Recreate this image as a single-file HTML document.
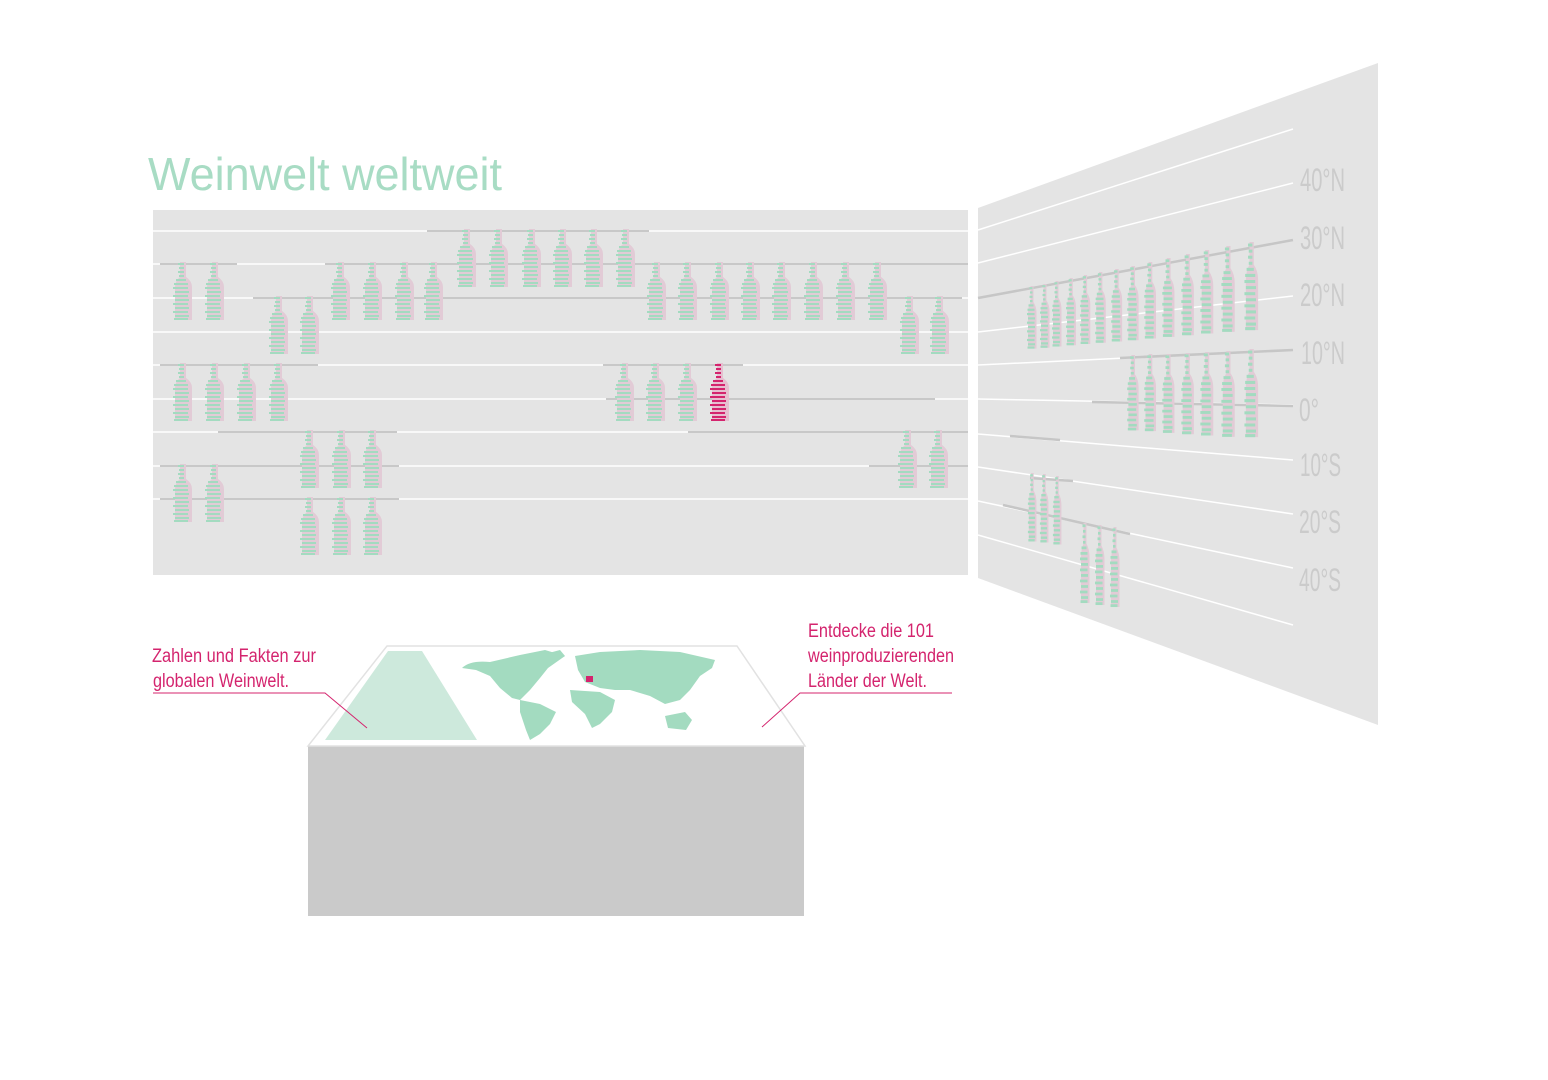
<!DOCTYPE html>
<html><head><meta charset="utf-8"><style>html,body{margin:0;padding:0;background:#fff}svg{display:block}</style></head><body>
<svg width="1548" height="1080" viewBox="0 0 1548 1080" xmlns="http://www.w3.org/2000/svg">
<defs>
<g id="b">
  <path d="M9,0 H15 V15 Q21,19 21,25 V58 H4 V25 Q4,19 9,15 Z" fill="#e2cbd6"/>
  <g fill="#a3dbc0">
    <rect x="7" y="1" width="6" height="2"/><rect x="8" y="5" width="5" height="2"/><rect x="7" y="9" width="6" height="2"/><rect x="8" y="13" width="5" height="2"/>
    <rect x="5" y="17" width="10" height="2"/><rect x="3" y="21" width="14" height="2"/>
    <rect x="2" y="25" width="15" height="2"/><rect x="4" y="29" width="14" height="2"/><rect x="2" y="33" width="15" height="2"/><rect x="4" y="37" width="14" height="2"/><rect x="2" y="41" width="15" height="2"/><rect x="4" y="45" width="14" height="2"/><rect x="2" y="49" width="15" height="2"/><rect x="4" y="53" width="14" height="2"/><rect x="3" y="56" width="14" height="2"/>
  </g>
</g>
<g id="r">
  <path d="M9,0 H15 V15 Q21,19 21,25 V58 H4 V25 Q4,19 9,15 Z" fill="#e6bfd0"/>
  <g fill="#d4246e">
    <rect x="7" y="1" width="6" height="2"/><rect x="8" y="5" width="5" height="2"/><rect x="7" y="9" width="6" height="2"/><rect x="8" y="13" width="5" height="2"/>
    <rect x="5" y="17" width="10" height="2"/><rect x="3" y="21" width="14" height="2"/>
    <rect x="2" y="25" width="15" height="2"/><rect x="4" y="29" width="14" height="2"/><rect x="2" y="33" width="15" height="2"/><rect x="4" y="37" width="14" height="2"/><rect x="2" y="41" width="15" height="2"/><rect x="4" y="45" width="14" height="2"/><rect x="2" y="49" width="15" height="2"/><rect x="4" y="53" width="14" height="2"/><rect x="3" y="56" width="14" height="2"/>
  </g>
</g>
</defs>

<text x="148" y="190" font-family="Liberation Sans, sans-serif" font-size="46" fill="#a8dcc4" textLength="354" lengthAdjust="spacingAndGlyphs">Weinwelt weltweit</text>

<!-- front wall -->
<rect x="153" y="210" width="815" height="365" fill="#e4e4e4"/>
<g stroke="#fff" stroke-width="1.5">
  <line x1="153" y1="231" x2="968" y2="231"/><line x1="153" y1="264" x2="968" y2="264"/><line x1="153" y1="298" x2="968" y2="298"/>
  <line x1="153" y1="332" x2="968" y2="332"/><line x1="153" y1="365" x2="968" y2="365"/><line x1="153" y1="399" x2="968" y2="399"/>
  <line x1="153" y1="432" x2="968" y2="432"/><line x1="153" y1="466" x2="968" y2="466"/><line x1="153" y1="499" x2="968" y2="499"/>
</g>
<g stroke="#c8c8c8" stroke-width="2">
  <line x1="427" y1="231" x2="649" y2="231"/>
  <line x1="160" y1="264" x2="237" y2="264"/><line x1="325" y1="264" x2="968" y2="264"/>
  <line x1="253" y1="298" x2="962" y2="298"/>
  <line x1="160" y1="365" x2="318" y2="365"/><line x1="603" y1="365" x2="743" y2="365"/>
  <line x1="606" y1="399" x2="935" y2="399"/>
  <line x1="218" y1="432" x2="397" y2="432"/><line x1="688" y1="432" x2="968" y2="432"/>
  <line x1="160" y1="466" x2="399" y2="466"/><line x1="869" y1="466" x2="968" y2="466"/>
  <line x1="160" y1="499" x2="399" y2="499"/>
</g>
<g>
  <use href="#b" x="171" y="262"/><use href="#b" x="203" y="262"/>
  <use href="#b" x="329" y="262"/><use href="#b" x="361" y="262"/><use href="#b" x="393" y="262"/><use href="#b" x="422" y="262"/>
  <use href="#b" x="645" y="262"/><use href="#b" x="676" y="262"/><use href="#b" x="708" y="262"/><use href="#b" x="739" y="262"/><use href="#b" x="770" y="262"/><use href="#b" x="802" y="262"/><use href="#b" x="834" y="262"/><use href="#b" x="866" y="262"/>
  <use href="#b" x="455" y="229"/><use href="#b" x="487" y="229"/><use href="#b" x="520" y="229"/><use href="#b" x="551" y="229"/><use href="#b" x="582" y="229"/><use href="#b" x="614" y="229"/>
  <use href="#b" x="267" y="296"/><use href="#b" x="298" y="296"/><use href="#b" x="898" y="296"/><use href="#b" x="928" y="296"/>
  <use href="#b" x="171" y="363"/><use href="#b" x="203" y="363"/><use href="#b" x="235" y="363"/><use href="#b" x="267" y="363"/>
  <use href="#b" x="613" y="363"/><use href="#b" x="644" y="363"/><use href="#b" x="676" y="363"/><use href="#r" x="708" y="363"/>
  <use href="#b" x="298" y="430"/><use href="#b" x="330" y="430"/><use href="#b" x="361" y="430"/><use href="#b" x="896" y="430"/><use href="#b" x="927" y="430"/>
  <use href="#b" x="171" y="464"/><use href="#b" x="203" y="464"/>
  <use href="#b" x="298" y="497"/><use href="#b" x="330" y="497"/><use href="#b" x="361" y="497"/>
</g>

<!-- right wall -->
<polygon points="978,208 1378,63 1378,725 978,578" fill="#e4e4e4"/>
<g stroke="#fff" stroke-width="1.5">
  <line x1="978" y1="230" x2="1293" y2="129"/><line x1="978" y1="263" x2="1293" y2="183"/><line x1="978" y1="298" x2="1293" y2="240"/>
  <line x1="978" y1="332" x2="1293" y2="296"/><line x1="978" y1="365" x2="1293" y2="350"/><line x1="978" y1="399" x2="1293" y2="405"/>
  <line x1="978" y1="434" x2="1293" y2="460"/><line x1="978" y1="467" x2="1293" y2="514"/><line x1="978" y1="501" x2="1293" y2="568"/>
  <line x1="978" y1="535" x2="1293" y2="625"/>
</g>
<g stroke="#c6c6c6" stroke-width="2.5">
  <line x1="978" y1="298" x2="1293" y2="240"/><line x1="1120" y1="358" x2="1293" y2="350"/><line x1="1092" y1="402" x2="1293" y2="406"/>
  <line x1="1010" y1="436" x2="1060" y2="440"/><line x1="1030" y1="478" x2="1073" y2="481"/><line x1="1003" y1="505" x2="1130" y2="534"/>
</g>
<g>
  <use href="#b" transform="translate(1026,286) scale(0.5,1.08)"/>
  <use href="#b" transform="translate(1039,284) scale(0.5,1.1)"/>
  <use href="#b" transform="translate(1051,281) scale(0.5,1.13)"/>
  <use href="#b" transform="translate(1065,278) scale(0.52,1.16)"/>
  <use href="#b" transform="translate(1079,275) scale(0.54,1.19)"/>
  <use href="#b" transform="translate(1094,272) scale(0.56,1.22)"/>
  <use href="#b" transform="translate(1110,269) scale(0.58,1.25)"/>
  <use href="#b" transform="translate(1126,266) scale(0.6,1.28)"/>
  <use href="#b" transform="translate(1143,262) scale(0.62,1.32)"/>
  <use href="#b" transform="translate(1161,258) scale(0.64,1.36)"/>
  <use href="#b" transform="translate(1180,254) scale(0.66,1.4)"/>
  <use href="#b" transform="translate(1199,250) scale(0.68,1.44)"/>
  <use href="#b" transform="translate(1220,246) scale(0.7,1.48)"/>
  <use href="#b" transform="translate(1243,242) scale(0.72,1.52)"/>
  <use href="#b" transform="translate(1126,355) scale(0.6,1.3)"/>
  <use href="#b" transform="translate(1143,354) scale(0.62,1.33)"/>
  <use href="#b" transform="translate(1161,354) scale(0.64,1.36)"/>
  <use href="#b" transform="translate(1180,353) scale(0.66,1.4)"/>
  <use href="#b" transform="translate(1199,352) scale(0.68,1.44)"/>
  <use href="#b" transform="translate(1220,351) scale(0.7,1.48)"/>
  <use href="#b" transform="translate(1243,349) scale(0.72,1.52)"/>
  <use href="#b" transform="translate(1027,473) scale(0.45,1.18)"/>
  <use href="#b" transform="translate(1039,474) scale(0.45,1.18)"/>
  <use href="#b" transform="translate(1052,476) scale(0.45,1.18)"/>
  <use href="#b" transform="translate(1079,523) scale(0.5,1.38)"/>
  <use href="#b" transform="translate(1094,525) scale(0.5,1.38)"/>
  <use href="#b" transform="translate(1109,527) scale(0.5,1.38)"/>
</g>
<g font-family="Liberation Sans, sans-serif" font-size="32" fill="#cbcbcb">
  <text x="1300" y="191" textLength="45" lengthAdjust="spacingAndGlyphs">40°N</text>
  <text x="1300" y="249" textLength="45" lengthAdjust="spacingAndGlyphs">30°N</text>
  <text x="1300" y="306" textLength="45" lengthAdjust="spacingAndGlyphs">20°N</text>
  <text x="1301" y="364" textLength="44" lengthAdjust="spacingAndGlyphs">10°N</text>
  <text x="1299" y="421" textLength="20" lengthAdjust="spacingAndGlyphs">0°</text>
  <text x="1300" y="476" textLength="41" lengthAdjust="spacingAndGlyphs">10°S</text>
  <text x="1299" y="533" textLength="42" lengthAdjust="spacingAndGlyphs">20°S</text>
  <text x="1299" y="591" textLength="42" lengthAdjust="spacingAndGlyphs">40°S</text>
</g>

<!-- table -->
<rect x="308" y="746" width="496" height="170" fill="#cacaca"/>
<polygon points="387,646 737,646 805,746 308,746" fill="#fff" stroke="#e2e2e2" stroke-width="1.5"/>
<polygon points="388,651 422,651 477,740 325,740" fill="#cde9dc"/>
<g fill="#a3dbc0">
  <path d="M462,668 Q470,660 490,662 L520,655 L545,650 L565,656 L548,668 L540,678 L530,690 L520,700 L512,698 L500,688 L490,676 L476,670 Z"/>
  <path d="M520,700 L540,704 L556,712 L550,724 L540,734 L530,740 L526,730 L520,712 Z"/>
  <path d="M575,656 L600,652 L640,650 L680,652 L715,660 L712,668 L700,676 L690,690 L680,700 L665,704 L650,696 L630,690 L615,690 L600,688 L585,682 L578,670 Z"/>
  <path d="M570,690 L600,692 L615,700 L612,712 L600,724 L592,728 L585,714 L572,702 Z"/>
  <path d="M665,716 L685,712 L692,720 L686,730 L668,728 Z"/>
  <path d="M545,654 L560,650 L565,656 L552,662 Z"/>
</g>
<rect x="586" y="676" width="7" height="6" fill="#d4246e"/>

<!-- annotations -->
<g font-family="Liberation Sans, sans-serif" font-size="19" fill="#d4246e">
  <text x="152" y="662" textLength="164" lengthAdjust="spacingAndGlyphs">Zahlen und Fakten zur</text>
  <text x="153" y="687" textLength="136" lengthAdjust="spacingAndGlyphs">globalen Weinwelt.</text>
  <text x="808" y="637" textLength="126" lengthAdjust="spacingAndGlyphs">Entdecke die 101</text>
  <text x="808" y="662" textLength="146" lengthAdjust="spacingAndGlyphs">weinproduzierenden</text>
  <text x="808" y="687" textLength="119" lengthAdjust="spacingAndGlyphs">Länder der Welt.</text>
</g>
<g stroke="#d4246e" stroke-width="1" fill="none">
  <polyline points="153,693 325,693 367,728"/>
  <polyline points="952,693 800,693 762,727"/>
</g>
</svg>
</body></html>
